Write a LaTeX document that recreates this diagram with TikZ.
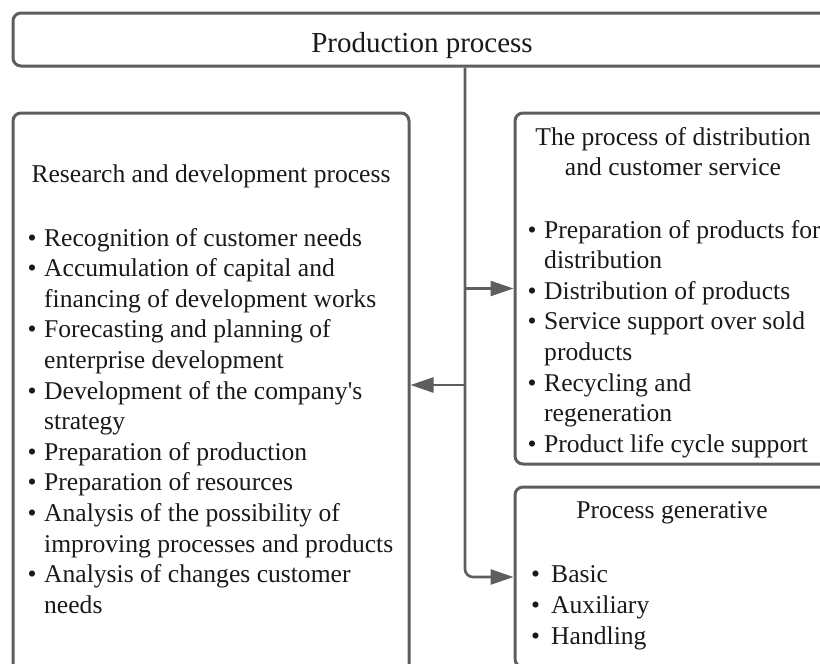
\documentclass[tikz,border=0pt]{standalone}
\usepackage{fontspec}
\setmainfont{Liberation Serif}
\usetikzlibrary{arrows.meta}
\definecolor{edge}{HTML}{5E5E5E}
\definecolor{ink}{HTML}{1A1A1A}
% bullet hung to the left of the line start
\newcommand\bl{\llap{\textbullet\hspace{7.5pt}}}
\newcommand\blw{\llap{\textbullet\hspace{11pt}}}
\begin{document}
\begin{tikzpicture}[x=1pt,y=-1pt,
  frame/.style={draw=edge, line width=3pt, rounded corners=8pt, anchor=north west,
                inner sep=0pt, fill=white},
  conn/.style={draw=edge, line width=2.6pt, -{Triangle[length=23pt,width=15pt]}},
  txt/.style={inner sep=0pt, text=ink, font=\fontsize{25.6}{30}\selectfont},
  line/.style={txt, anchor=base west},
  head/.style={txt, anchor=base},
]
\useasboundingbox (0,0) rectangle (820,664);
\clip (0,0) rectangle (820,664);

% boxes
\node[frame, minimum width=900pt, minimum height=53pt] (top) at (11.5,11.5) {};
\node[frame, minimum width=396pt, minimum height=620pt] (rd) at (11.5,111.5) {};
\node[frame, minimum width=400pt, minimum height=351pt] (dist) at (513.5,111.5) {};
\node[frame, minimum width=400pt, minimum height=180pt] (gen) at (513.5,485.5) {};

% titles
\node[txt, anchor=base, font=\fontsize{29}{34}\selectfont] (toptitle) at (422,52) {Production process};
\node[head] (rdtitle) at (211,182) {Research and development process};
\node[head] (disttitle1) at (673,145) {The process of distribution};
\node[head] (disttitle2) at (673,175) {and customer service};
\node[head] (gentitle) at (672,518) {Process generative};

% item lists
\foreach \t [count=\i] in {
  \bl Recognition of customer needs,
  \bl Accumulation of capital and,
  financing of development works,
  \bl Forecasting and planning of,
  enterprise development,
  \bl Development of the company\textquotesingle s,
  strategy,
  \bl Preparation of production,
  \bl Preparation of resources,
  \bl Analysis of the possibility of,
  improving processes and products,
  \bl Analysis of changes customer,
  needs}
  \node[line] (rdl\i) at (44,{246+30.6*(\i-1)}) {\t};

\foreach \t [count=\i] in {
  \bl Preparation of products for,
  distribution,
  \bl Distribution of products,
  \bl Service support over sold,
  products,
  \bl Recycling and,
  regeneration,
  \bl Product life cycle support}
  \node[line] (distl\i) at (544,{238+30.6*(\i-1)}) {\t};

\foreach \t [count=\i] in {\blw Basic, \blw Auxiliary, \blw Handling}
  \node[line] (genl\i) at (551,{582+31*(\i-1)}) {\t};

% connectors
\coordinate (trunk) at (465,0);
\coordinate (tapR) at (465,385);
\draw[conn, rounded corners=8pt] (top.south -| trunk) |- (gen.west);
\draw[conn] (trunk |- dist.west) -- (dist.west);
\draw[conn] (tapR) -- (tapR -| rd.east);
\end{tikzpicture}
\end{document}
